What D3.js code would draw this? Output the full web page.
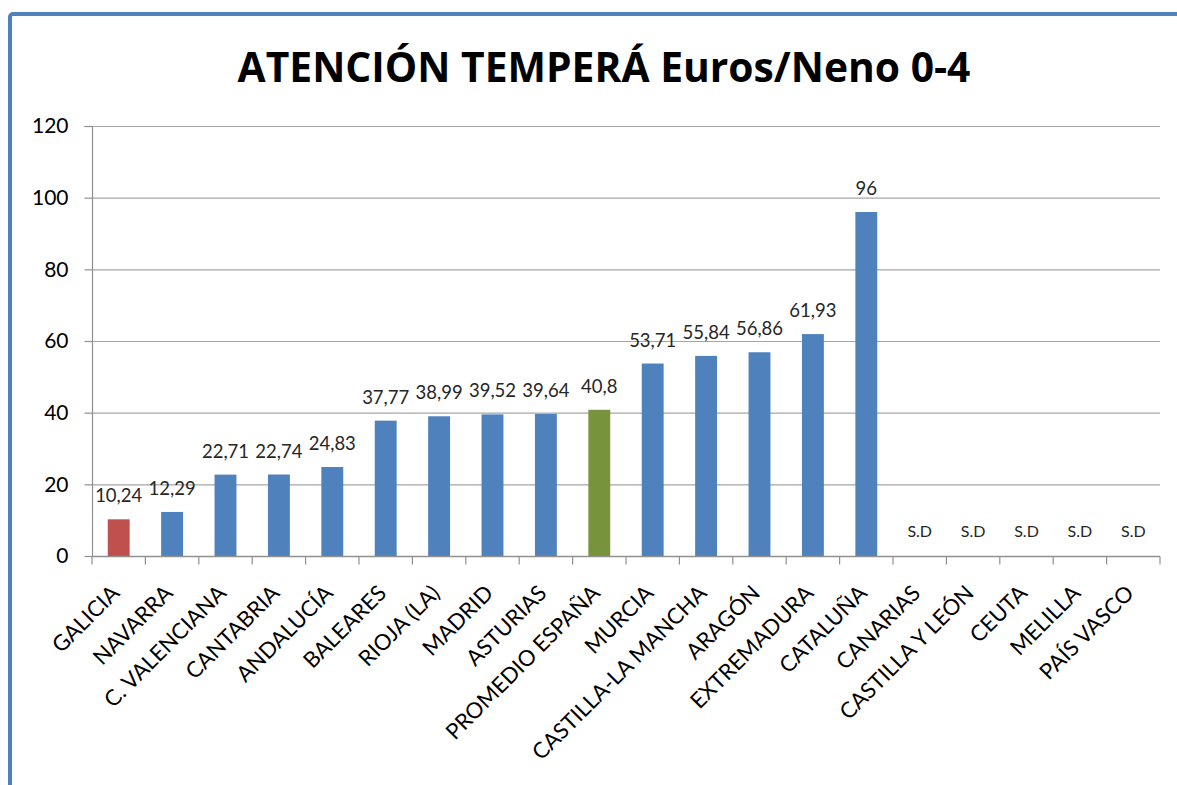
<!DOCTYPE html>
<html><head><meta charset="utf-8">
<script src="https://cdn.jsdelivr.net/npm/d3@7"></script>
<style>body{margin:0;background:#fff;} svg{display:block;}</style>
</head><body>
<svg id="c" width="1177" height="785"></svg>
<script>
const categories = ["GALICIA","NAVARRA","C. VALENCIANA","CANTABRIA","ANDALUCÍA","BALEARES","RIOJA (LA)","MADRID","ASTURIAS","PROMEDIO ESPAÑA","MURCIA","CASTILLA-LA MANCHA","ARAGÓN","EXTREMADURA","CATALUÑA","CANARIAS","CASTILLA Y LEÓN","CEUTA","MELILLA","PAÍS VASCO"];
const values = [10.24,12.29,22.71,22.74,24.83,37.77,38.99,39.52,39.64,40.8,53.71,55.84,56.86,61.93,96,null,null,null,null,null];
const yTicks = [0,20,40,60,80,100,120];
const titleText = "ATENCIÓN TEMPERÁ Euros/Neno 0-4";
const colorDefault = "#4F81BD", colorGalicia = "#C0504D", colorAverage = "#77933C";

const svg = d3.select("#c");
const font = "Lato, 'Open Sans', sans-serif";

// frame
svg.append("rect").attr("x",10).attr("y",14).attr("width",1300).attr("height",900)
  .attr("rx",3).attr("fill","none").attr("stroke","#4F81BD").attr("stroke-width",4);

const m = {left:92, right:1160, top:126, bottom:556};
const x = d3.scaleBand().domain(categories).range([m.left,m.right]).paddingInner(0.59).paddingOuter(0.295);
const xb = d3.scaleBand().domain(categories).range([m.left,m.right]);
const y = d3.scaleLinear().domain([0,120]).range([m.bottom,m.top]);

// title
const t = svg.append("text").attr("x",604).attr("y",82).attr("text-anchor","middle")
  .attr("font-family","'Open Sans', sans-serif").attr("font-weight","bold").attr("font-size",44)
  .attr("fill","#000").text(titleText);
const tw = t.node().getComputedTextLength();
t.attr("font-size", 44*733/tw);

// gridlines
svg.append("g").selectAll("line").data(yTicks.filter(d=>d>0)).join("line")
  .attr("x1",m.left).attr("x2",m.right).attr("y1",d=>y(d)+0.5).attr("y2",d=>y(d)+0.5)
  .attr("stroke","#A6A6A6").attr("stroke-width",1.2);

// y axis
const ya = svg.append("g").attr("transform",`translate(${m.left+0.5},0)`)
  .call(d3.axisLeft(y).tickValues(yTicks).tickSize(8).tickPadding(16).tickFormat(d3.format("d")));
ya.select(".domain").attr("stroke","#909090").attr("stroke-width",1.2).attr("d",`M-8,${y(120)+0.5}H0V${y(0)}`);
ya.selectAll(".tick line").attr("stroke","#909090").attr("stroke-width",1.2);
ya.selectAll(".tick text").attr("font-family",font).attr("font-size",21).attr("fill","#000");

// bars
svg.append("g").selectAll("rect").data(categories.map((c,i)=>({c,v:values[i]})).filter(d=>d.v!=null)).join("rect")
  .attr("x",d=>x(d.c)).attr("width",x.bandwidth()).attr("y",d=>y(d.v)).attr("height",d=>y(0)-y(d.v))
  .attr("fill",d=>d.c==="GALICIA"?colorGalicia:(d.c==="PROMEDIO ESPAÑA"?colorAverage:colorDefault));

// x axis
const xaxisG = svg.append("g").attr("transform",`translate(0,${m.bottom+0.5})`);
xaxisG.append("line").attr("x1",m.left).attr("x2",m.right).attr("stroke","#909090").attr("stroke-width",1.5);
const bounds = categories.map(c=>xb(c)).concat([m.right]);
xaxisG.selectAll("line.tk").data(bounds).join("line").attr("class","tk")
  .attr("x1",d=>d).attr("x2",d=>d).attr("y1",0).attr("y2",8).attr("stroke","#909090").attr("stroke-width",1.2);
xaxisG.selectAll("text").data(categories).join("text")
  .attr("transform",d=>`translate(${xb(d)+xb.bandwidth()/2+2},${38}) rotate(-45)`)
  .attr("text-anchor","end").attr("font-family",font).attr("font-size",22).attr("fill","#000")
  .text(d=>d);

// data labels
const fmt = v => v==null ? "S.D" : String(v).replace(".",",");
svg.append("g").selectAll("text").data(categories.map((c,i)=>({c,v:values[i]}))).join("text")
  .attr("x",d=>xb(d.c)+xb.bandwidth()/2).attr("y",d=>d.v==null? y(0)-19 : y(d.v)-17)
  .attr("text-anchor","middle").attr("font-family",font).attr("font-size",d=>d.v==null?16:18.5)
  .attr("fill","#262626").text(d=>fmt(d.v));
</script>
</body></html>
